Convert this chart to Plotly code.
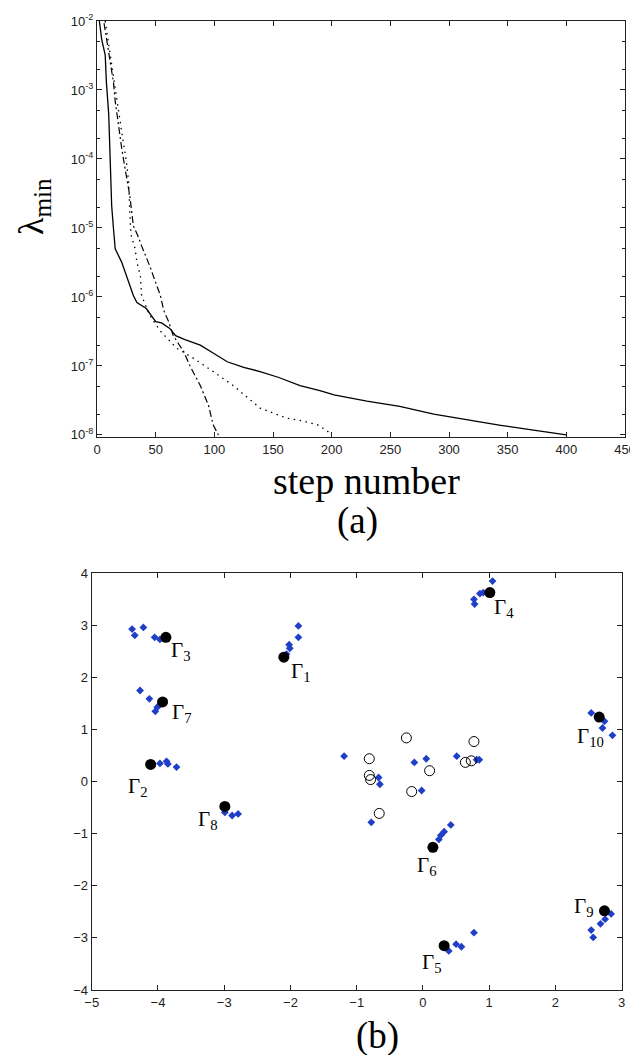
import plotly.graph_objects as go

# ---------------- Panel (a) data ----------------
solid_step = [2, 4, 7, 8, 10, 11, 12.5, 14, 15.5, 21, 27, 31, 34, 42, 50, 55, 62, 67, 75, 88,
              100, 111, 125, 139, 155, 173, 190, 202, 230, 258, 287, 315, 344, 372, 400]
solid_lam = [1.0e-2, 5.4e-3, 3.2e-3, 1.3e-3, 4.4e-4, 1.4e-4, 2.1e-5, 1.0e-5, 5.0e-6, 3.2e-6,
             1.7e-6, 1.05e-6, 8.3e-7, 6.8e-7, 4.4e-7, 4.2e-7, 3.5e-7, 2.75e-7, 2.4e-7, 2.0e-7,
             1.5e-7, 1.15e-7, 9.5e-8, 8.3e-8, 6.8e-8, 5.2e-8, 4.4e-8, 3.8e-8, 3.1e-8, 2.6e-8,
             2.0e-8, 1.65e-8, 1.38e-8, 1.17e-8, 1.0e-8]

dashdot_step = [6, 8.5, 11, 14, 15.5, 18, 21, 24, 28, 31, 35, 38, 45, 51, 54, 57, 61, 65, 74,
                79, 88, 95, 99, 103.5]
dashdot_lam = [9.3e-3, 5.0e-3, 2.6e-3, 1.3e-3, 6.9e-4, 3.2e-4, 1.45e-4, 7.1e-5, 2.9e-5, 1.07e-5,
               7.6e-6, 5.5e-6, 2.8e-6, 1.45e-6, 1.05e-6, 6.3e-7, 4.4e-7, 2.75e-7, 1.6e-7, 1.02e-7,
               5.2e-8, 2.7e-8, 1.4e-8, 1.0e-8]

dotted_step = [7, 10, 13, 17, 21, 25, 27, 28, 29, 32.5, 34, 37, 38, 45, 54, 68, 82, 99, 116,
               139, 162, 175, 188, 196, 200]
dotted_lam = [1.0e-2, 4.5e-3, 1.8e-3, 6.3e-4, 2.5e-4, 9.3e-5, 4.6e-5, 1.6e-5, 7.9e-6, 5.0e-6,
              3.2e-6, 2.0e-6, 1.05e-6, 5.4e-7, 3.2e-7, 1.8e-7, 1.3e-7, 8.3e-8, 5.2e-8, 2.45e-8,
              1.74e-8, 1.6e-8, 1.4e-8, 1.15e-8, 1.0e-8]

ytick_vals = [1e-8, 1e-7, 1e-6, 1e-5, 1e-4, 1e-3, 1e-2]
ytick_text = ["10<sup>-8</sup>", "10<sup>-7</sup>", "10<sup>-6</sup>", "10<sup>-5</sup>",
              "10<sup>-4</sup>", "10<sup>-3</sup>", "10<sup>-2</sup>"]

# ---------------- Panel (b) data ----------------
gamma_names = ["1", "2", "3", "4", "5", "6", "7", "8", "9", "10"]
gamma_x = [-2.10, -4.11, -3.88, 1.01, 0.32, 0.15, -3.93, -2.99, 2.74, 2.66]
gamma_y = [2.39, 0.33, 2.77, 3.63, -3.15, -1.26, 1.53, -0.475, -2.48, 1.24]
# label offsets (pixels) from each centre
gamma_dx = [17, -13, 15, 14, -13, -6, 19, -17, -21, -9]
gamma_dy = [-15, -23, -14, -15, -17, -19, -11, -14, 4, -20]

blue_x = [-4.39, -4.35, -4.22, -4.05, -3.97,
          -1.88, -1.88, -2.02, -2.01, -2.06,
          -4.27, -4.13, -4.04, -4.01, -3.97,
          -3.97, -3.87, -3.85, -3.72,
          -2.99, -2.88, -2.79,
          -1.19,
          1.05, 0.91, 0.86, 0.77, 0.78,
          2.54, 2.74, 2.71, 2.86,
          -0.67, -0.65, -0.13, 0.05, -0.02, 0.51, 0.81, 0.85, -0.78,
          0.24, 0.27, 0.32, 0.42,
          2.84, 2.75, 2.68, 2.54, 2.57,
          0.39, 0.50, 0.58, 0.77]
blue_y = [2.93, 2.81, 2.96, 2.77, 2.73,
          2.99, 2.77, 2.63, 2.56, 2.45,
          1.75, 1.59, 1.35, 1.43, 1.48,
          0.35, 0.39, 0.34, 0.28,
          -0.59, -0.65, -0.62,
          0.49,
          3.85, 3.63, 3.61, 3.50, 3.41,
          1.32, 1.16, 1.03, 0.89,
          0.08, -0.05, 0.37, 0.44, -0.17, 0.49, 0.42, 0.42, -0.78,
          -1.11, -1.03, -0.96, -0.83,
          -2.54, -2.64, -2.73, -2.85, -2.99,
          -3.25, -3.12, -3.17, -2.90]

open_x = [-0.25, -0.81, -0.81, -0.79, 0.10, -0.17, 0.77, 0.64, 0.73, -0.66]
open_y = [0.84, 0.44, 0.12, 0.04, 0.21, -0.19, 0.77, 0.37, 0.40, -0.61]

TICKFONT = dict(family="Liberation Sans, Arial, sans-serif", size=13, color="#222")
SERIF = "Liberation Serif, Times New Roman, serif"

# page body has an 8px margin; work in window pixels and convert
OFF = 8
W, H = 638 - OFF, 1063 - 2 * OFF


def px(x):
    return (x - OFF) / W


def py(y):
    return 1 - (y - OFF) / H


fig = go.Figure()

# ---- panel (a) ----
fig.add_trace(go.Scatter(x=solid_step, y=solid_lam, mode="lines",
                         line=dict(color="black", width=1.3), xaxis="x", yaxis="y"))
fig.add_trace(go.Scatter(x=dashdot_step, y=dashdot_lam, mode="lines",
                         line=dict(color="black", width=1.2, dash="7px,3px,2px,3px"),
                         xaxis="x", yaxis="y"))
fig.add_trace(go.Scatter(x=dotted_step, y=dotted_lam, mode="lines",
                         line=dict(color="black", width=1.3, dash="1.5px,4.5px"),
                         xaxis="x", yaxis="y"))

# ---- panel (b) ----
fig.add_trace(go.Scatter(x=blue_x, y=blue_y, mode="markers",
                         marker=dict(symbol="diamond", size=6, color="#1f3fc8", line=dict(width=0)),
                         xaxis="x2", yaxis="y2"))
fig.add_trace(go.Scatter(x=open_x, y=open_y, mode="markers",
                         marker=dict(symbol="circle-open", size=10, color="black", line=dict(width=1)),
                         xaxis="x2", yaxis="y2"))
fig.add_trace(go.Scatter(x=gamma_x, y=gamma_y, mode="markers",
                         marker=dict(symbol="circle", size=11, color="black"),
                         xaxis="x2", yaxis="y2"))

annotations = []
for name, gx, gy, dx, dy in zip(gamma_names, gamma_x, gamma_y, gamma_dx, gamma_dy):
    annotations.append(dict(x=gx, y=gy, xref="x2", yref="y2", text="Γ<sub>" + name + "</sub>",
                            showarrow=False, xshift=dx, yshift=dy,
                            xanchor="center", yanchor="middle",
                            font=dict(family=SERIF, size=21, color="black")))

annotations += [
    dict(x=px(366), y=py(481), xref="paper", yref="paper", text="step number",
         showarrow=False, xanchor="center", yanchor="middle",
         font=dict(family=SERIF, size=38, color="black")),
    dict(x=px(357), y=py(521), xref="paper", yref="paper", text="(a)",
         showarrow=False, xanchor="center", yanchor="middle",
         font=dict(family=SERIF, size=37, color="black")),
    dict(x=px(377), y=py(1036), xref="paper", yref="paper", text="(b)",
         showarrow=False, xanchor="center", yanchor="middle",
         font=dict(family=SERIF, size=37, color="black")),
    dict(x=px(33), y=py(207), xref="paper", yref="paper", text="λ<sub>min</sub>",
         textangle=-90, showarrow=False, xanchor="center", yanchor="middle",
         font=dict(family=SERIF, size=36, color="black")),
]

axis_common = dict(showline=True, linecolor="#222", linewidth=1.2, mirror="ticks",
                   ticks="inside", tickcolor="#222", ticklen=5, showgrid=False,
                   zeroline=False, tickfont=TICKFONT)

fig.update_layout(
    width=W, height=H,
    margin=dict(l=0, r=0, t=0, b=0, autoexpand=False),
    paper_bgcolor="white", plot_bgcolor="white",
    showlegend=False,
    xaxis=dict(domain=[px(97), px(625)], range=[0, 450], dtick=50, anchor="y", **axis_common),
    yaxis=dict(domain=[py(437), py(21)], type="log", range=[-8.03, -2],
               tickvals=ytick_vals, ticktext=ytick_text, anchor="x",
               minor=dict(ticks="inside", ticklen=3, tickcolor="#222", showgrid=False),
               **axis_common),
    xaxis2=dict(domain=[px(91.7), px(621.7)], range=[-5, 3], dtick=1, anchor="y2", **axis_common),
    yaxis2=dict(domain=[py(990), py(573.3)], range=[-4, 4], dtick=1, anchor="x2",
                **axis_common),
    annotations=annotations,
)

fig.write_html("out.html")
